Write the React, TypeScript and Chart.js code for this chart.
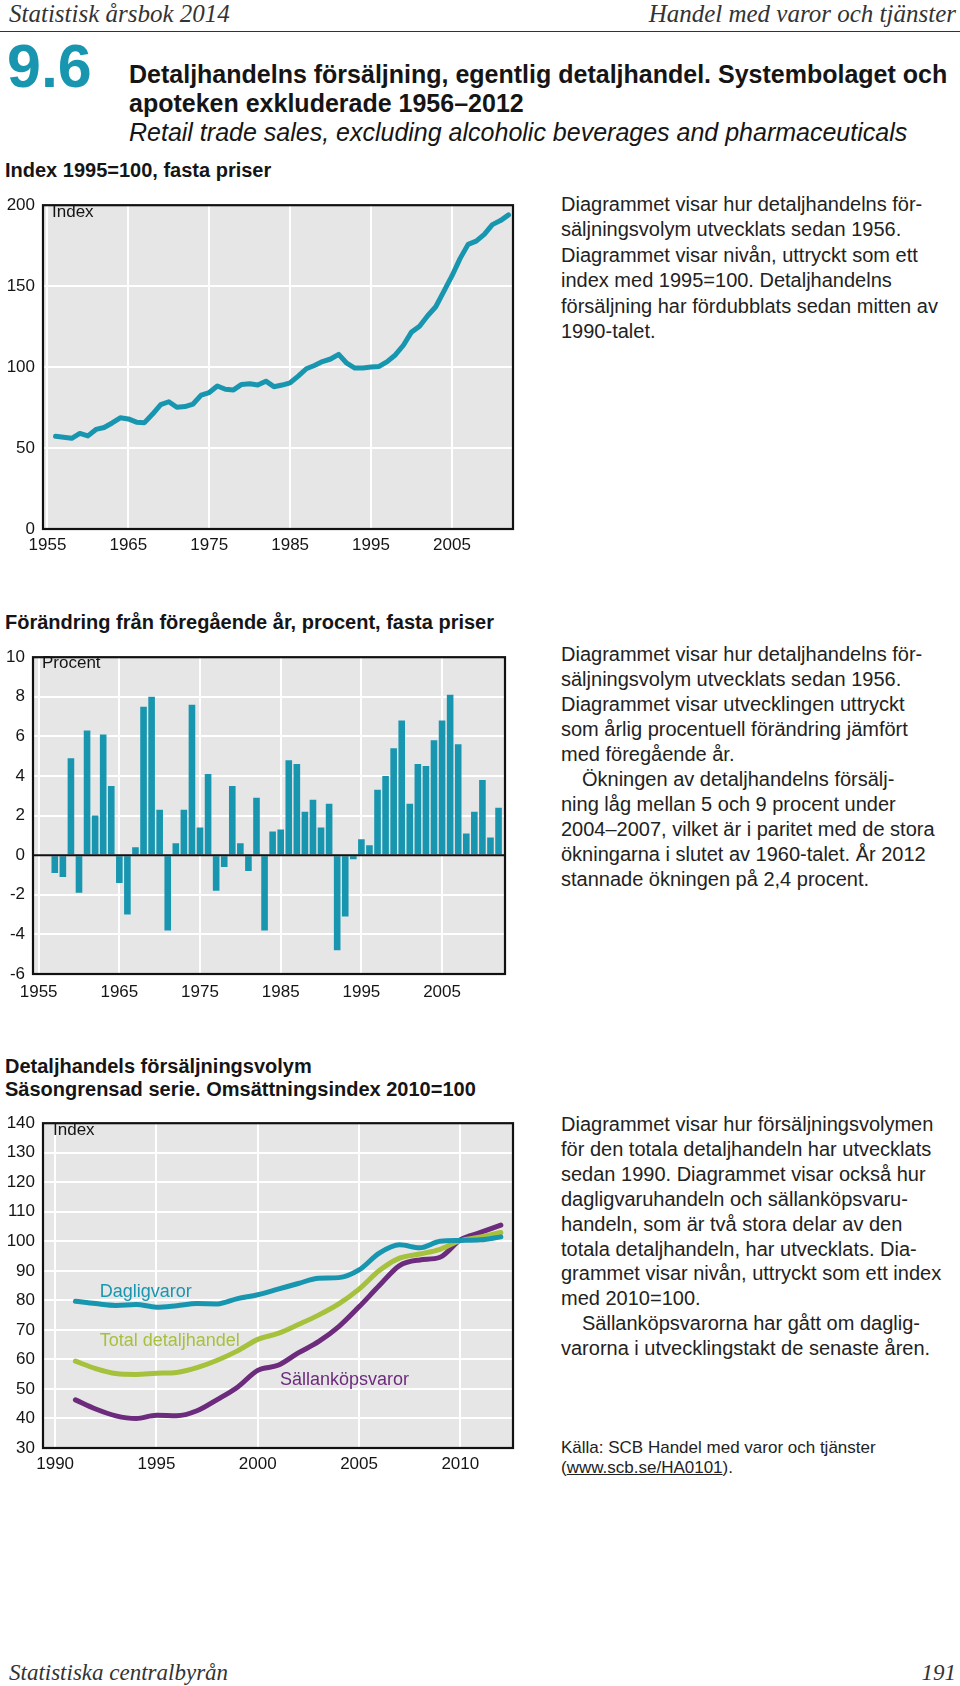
import React, { useEffect, useRef } from 'react';
import { Chart, registerables } from 'chart.js';

Chart.register(...registerables);

const TEAL = '#1896b0';
const GREEN = '#a6c13c';
const PURPLE = '#6c2b7c';
const PLOT_BG = '#e6e6e6';
const INK = '#151515';
const FONT = "'Liberation Sans', Arial, Helvetica, sans-serif";
const SERIF = "'Liberation Serif', 'Times New Roman', serif";

// ---------- Chart 1: Index 1995=100 ----------
const indexYears = [
  1956, 1957, 1958, 1959, 1960, 1961, 1962, 1963, 1964, 1965,
  1966, 1967, 1968, 1969, 1970, 1971, 1972, 1973, 1974, 1975,
  1976, 1977, 1978, 1979, 1980, 1981, 1982, 1983, 1984, 1985,
  1986, 1987, 1988, 1989, 1990, 1991, 1992, 1993, 1994, 1995,
  1996, 1997, 1998, 1999, 2000, 2001, 2002, 2003, 2004, 2005,
  2006, 2007, 2008, 2009, 2010, 2011, 2012,
];
const indexValues = [
  57.3, 56.7, 56.0, 59.0, 57.5, 61.5, 62.7, 65.5, 68.7, 68.0,
  66.0, 65.7, 71.0, 76.8, 78.6, 75.2, 75.6, 77.2, 82.7, 84.3,
  88.3, 86.3, 85.9, 89.3, 89.7, 89.0, 91.3, 87.9, 88.9, 90.3,
  94.4, 99.0, 101.0, 103.4, 105.0, 107.9, 102.4, 99.4, 99.4, 100.0,
  100.4, 103.4, 107.5, 113.5, 121.6, 125.2, 131.7, 137.3, 146.8, 156.3,
  167.0, 175.8, 177.8, 182.0, 188.0, 190.5, 194.0,
];
const indexXTicks = [1955, 1965, 1975, 1985, 1995, 2005];

// ---------- Chart 2: change from previous year, percent ----------
const growthYears = [
  1957, 1958, 1959, 1960, 1961, 1962, 1963, 1964, 1965, 1966,
  1967, 1968, 1969, 1970, 1971, 1972, 1973, 1974, 1975, 1976,
  1977, 1978, 1979, 1980, 1981, 1982, 1983, 1984, 1985, 1986,
  1987, 1988, 1989, 1990, 1991, 1992, 1993, 1994, 1995, 1996,
  1997, 1998, 1999, 2000, 2001, 2002, 2003, 2004, 2005, 2006,
  2007, 2008, 2009, 2010, 2011, 2012,
];
const growthValues = [
  -0.9, -1.1, 4.9, -1.9, 6.3, 2.0, 6.1, 3.5, -1.4, -3.0,
  0.4, 7.5, 8.0, 2.3, -3.8, 0.6, 2.3, 7.6, 1.4, 4.1,
  -1.8, -0.6, 3.5, 0.6, -0.8, 2.9, -3.8, 1.2, 1.3, 4.8,
  4.6, 2.2, 2.8, 1.4, 2.6, -4.8, -3.1, -0.2, 0.8, 0.5,
  3.3, 4.0, 5.4, 6.8, 2.6, 4.6, 4.5, 5.8, 6.8, 8.1,
  5.6, 1.1, 2.2, 3.8, 0.9, 2.4,
];
const growthXTicks = [1955, 1965, 1975, 1985, 1995, 2005];

// ---------- Chart 3: sales volume, index 2010=100 ----------
const volumeYears = [
  1991, 1992, 1993, 1994, 1995, 1996, 1997, 1998, 1999, 2000, 2001,
  2002, 2003, 2004, 2005, 2006, 2007, 2008, 2009, 2010, 2011, 2012,
];
const dagligvaror = [
  79.7, 78.9, 78.3, 78.6, 77.7, 78.2, 78.9, 78.8, 80.6, 81.9, 83.8,
  85.7, 87.5, 87.7, 90.3, 96.0, 98.8, 97.8, 100.0, 100.3, 100.5, 101.5,
];
const totalDetaljhandel = [
  59.4, 56.9, 55.2, 54.9, 55.3, 55.6, 57.2, 59.7, 62.9, 66.8, 68.8,
  71.8, 75.0, 78.8, 83.8, 90.1, 94.3, 95.7, 97.3, 100.2, 101.5, 103.0,
];
const sallankopsvaror = [
  46.3, 43.2, 40.9, 40.0, 41.1, 40.9, 42.6, 46.4, 50.6, 56.3, 58.0,
  62.2, 66.0, 71.1, 77.8, 85.0, 91.8, 93.7, 94.6, 100.5, 103.0, 105.5,
];
const volumeXTicks = [1990, 1995, 2000, 2005, 2010];
const seriesLabels = [
  { text: 'Dagligvaror', x: 1992.2, y: 82.8, color: TEAL },
  { text: 'Total detaljhandel', x: 1992.2, y: 66.3, color: GREEN },
  { text: 'Sällanköpsvaror', x: 2001.1, y: 53.1, color: PURPLE },
];

// ---------- helpers ----------
const framePlugin = {
  id: 'plotFrame',
  beforeDraw(chart: any) {
    const { ctx, chartArea: a } = chart;
    ctx.save();
    ctx.fillStyle = PLOT_BG;
    ctx.fillRect(a.left, a.top, a.right - a.left, a.bottom - a.top);
    ctx.restore();
  },
  afterDraw(chart: any) {
    const { ctx, chartArea: a } = chart;
    ctx.save();
    ctx.strokeStyle = '#111';
    ctx.lineWidth = 2.2;
    ctx.strokeRect(a.left, a.top, a.right - a.left, a.bottom - a.top);
    ctx.restore();
  },
};

const zeroLinePlugin = {
  id: 'zeroLine',
  afterDatasetsDraw(chart: any) {
    const { ctx, chartArea: a, scales } = chart;
    const y = scales.y.getPixelForValue(0);
    ctx.save();
    ctx.strokeStyle = '#111';
    ctx.lineWidth = 2;
    ctx.beginPath();
    ctx.moveTo(a.left, y);
    ctx.lineTo(a.right, y);
    ctx.stroke();
    ctx.restore();
  },
};

const seriesLabelPlugin = {
  id: 'seriesLabels',
  afterDatasetsDraw(chart: any) {
    const { ctx, scales } = chart;
    ctx.save();
    ctx.font = `18px ${FONT}`;
    ctx.textAlign = 'left';
    ctx.textBaseline = 'middle';
    seriesLabels.forEach((l) => {
      ctx.fillStyle = l.color;
      ctx.fillText(l.text, scales.x.getPixelForValue(l.x), scales.y.getPixelForValue(l.y));
    });
    ctx.restore();
  },
};

const tickFont = { family: FONT, size: 17 };

function xScale(min: number, max: number, ticks: number[], height: number, pad: number) {
  return {
    type: 'linear',
    min,
    max,
    offset: false,
    afterBuildTicks: (s: any) => {
      s.ticks = ticks.map((v) => ({ value: v }));
    },
    afterFit: (s: any) => {
      s.height = height;
    },
    grid: { color: '#ffffff', lineWidth: 2, drawTicks: false, offset: false },
    border: { display: false },
    ticks: {
      padding: pad,
      color: INK,
      font: tickFont,
      maxRotation: 0,
      autoSkip: false,
      callback: (v: any) => String(v),
    },
  };
}

function yScale(min: number, max: number, step: number, width: number, gridColor?: any) {
  return {
    type: 'linear',
    min,
    max,
    afterFit: (s: any) => {
      s.width = width;
    },
    grid: { color: gridColor || '#ffffff', lineWidth: 2, drawTicks: false },
    border: { display: false },
    ticks: {
      stepSize: step,
      padding: 8,
      color: INK,
      font: tickFont,
      callback: (v: any) => String(v),
    },
  };
}

const baseOptions = (rightPad: number) => ({
  animation: false,
  responsive: false,
  maintainAspectRatio: false,
  events: [],
  layout: { padding: { top: 10, right: rightPad, left: 0, bottom: 0 } },
  plugins: { legend: { display: false }, tooltip: { enabled: false } },
});

function ChartCanvas({ make, left, top, width, height }: any) {
  const ref = useRef<HTMLCanvasElement>(null);
  useEffect(() => {
    const chart = new Chart(ref.current as HTMLCanvasElement, make());
    return () => chart.destroy();
  }, []);
  return (
    <canvas
      ref={ref}
      width={width}
      height={height}
      style={{ position: 'absolute', left, top, width, height }}
    />
  );
}

const makeIndexChart = () => ({
  type: 'line',
  data: {
    datasets: [
      {
        data: indexYears.map((yr, i) => ({ x: yr, y: indexValues[i] })),
        borderColor: TEAL,
        borderWidth: 5,
        pointRadius: 0,
        tension: 0,
        borderJoinStyle: 'round',
        borderCapStyle: 'round',
      },
    ],
  },
  options: {
    ...baseOptions(27),
    scales: {
      x: xScale(1954.45, 2012.55, indexXTicks, 38, 6),
      y: yScale(0, 200, 50, 43),
    },
  },
  plugins: [framePlugin],
});

const makeGrowthChart = () => ({
  type: 'bar',
  data: {
    datasets: [
      {
        data: growthYears.map((yr, i) => ({ x: yr, y: growthValues[i] })),
        backgroundColor: TEAL,
        borderWidth: 0,
        barPercentage: 0.82,
        categoryPercentage: 1,
      },
    ],
  },
  options: {
    ...baseOptions(35),
    scales: {
      x: xScale(1954.3, 2012.8, growthXTicks, 45, 8),
      y: yScale(-6, 10, 2, 33, (c: any) => (c.tick && c.tick.value === 0 ? 'rgba(0,0,0,0)' : '#ffffff')),
    },
  },
  plugins: [framePlugin, zeroLinePlugin],
});

const lineDs = (values: number[], color: string) => ({
  data: volumeYears.map((yr, i) => ({ x: yr, y: values[i] })),
  borderColor: color,
  borderWidth: 5,
  pointRadius: 0,
  cubicInterpolationMode: 'monotone',
  borderJoinStyle: 'round',
  borderCapStyle: 'round',
});

const makeVolumeChart = () => ({
  type: 'line',
  data: {
    datasets: [
      lineDs(dagligvaror, TEAL),
      lineDs(totalDetaljhandel, GREEN),
      lineDs(sallankopsvaror, PURPLE),
    ],
  },
  options: {
    ...baseOptions(27),
    scales: {
      x: xScale(1989.4, 2012.6, volumeXTicks, 37, 6),
      y: yScale(30, 140, 10, 43),
    },
  },
  plugins: [framePlugin, seriesLabelPlugin],
});

// ---------- text ----------
const text1 = [
  'Diagrammet visar hur detaljhandelns för-',
  'säljningsvolym utvecklats sedan 1956.',
  'Diagrammet visar nivån, uttryckt som ett',
  'index med 1995=100. Detaljhandelns',
  'försäljning har fördubblats sedan mitten av',
  '1990-talet.',
];
const text2 = [
  'Diagrammet visar hur detaljhandelns för-',
  'säljningsvolym utvecklats sedan 1956.',
  'Diagrammet visar utvecklingen uttryckt',
  'som årlig procentuell förändring jämfört',
  'med föregående år.',
  '\tÖkningen av detaljhandelns försälj-',
  'ning låg mellan 5 och 9 procent under',
  '2004–2007, vilket är i paritet med de stora',
  'ökningarna i slutet av 1960-talet. År 2012',
  'stannade ökningen på 2,4 procent.',
];
const text3 = [
  'Diagrammet visar hur försäljningsvolymen',
  'för den totala detaljhandeln har utvecklats',
  'sedan 1990. Diagrammet visar också hur',
  'dagligvaruhandeln och sällanköpsvaru-',
  'handeln, som är två stora delar av den',
  'totala detaljhandeln, har utvecklats. Dia-',
  'grammet visar nivån, uttryckt som ett index',
  'med 2010=100.',
  '\tSällanköpsvarorna har gått om daglig-',
  'varorna i utvecklingstakt de senaste åren.',
];

function TextBlock({ lines, left, top, lineHeight }: any) {
  return (
    <div
      style={{
        position: 'absolute',
        left,
        top,
        fontFamily: FONT,
        fontSize: 20,
        lineHeight: `${lineHeight}px`,
        color: '#222',
        whiteSpace: 'nowrap',
      }}
    >
      {lines.map((l: string, i: number) =>
        l.startsWith('\t') ? (
          <div key={i} style={{ paddingLeft: 21 }}>{l.slice(1)}</div>
        ) : (
          <div key={i}>{l}</div>
        )
      )}
    </div>
  );
}

const abs = (left: number, top: number, extra: any = {}) => ({
  position: 'absolute' as const,
  left,
  top,
  whiteSpace: 'nowrap' as const,
  ...extra,
});

export default function App() {
  return (
    <div
      style={{
        position: 'absolute',
        left: 0,
        top: 0,
        width: 960,
        height: 1686,
        background: '#fff',
        fontFamily: FONT,
        color: INK,
        overflow: 'hidden',
      }}
    >
      {/* running header */}
      <div style={abs(9, 0, { fontFamily: SERIF, fontStyle: 'italic', fontSize: 25, lineHeight: '28px', color: '#333' })}>
        Statistisk årsbok 2014
      </div>
      <div style={{ position: 'absolute', right: 4, top: 0, fontFamily: SERIF, fontStyle: 'italic', fontSize: 25, lineHeight: '28px', color: '#333', whiteSpace: 'nowrap' }}>
        Handel med varor och tjänster
      </div>
      <div style={{ position: 'absolute', left: 0, top: 31, width: 960, borderTop: '1.5px solid #333' }} />

      {/* table number and title */}
      <div style={abs(7, 36, { fontSize: 61, lineHeight: '60px', fontWeight: 'bold', color: TEAL })}>9.6</div>
      <div style={abs(129, 60, { fontSize: 25, lineHeight: '29px', fontWeight: 'bold' })}>
        <div>Detaljhandelns försäljning, egentlig detaljhandel. Systembolaget och</div>
        <div>apoteken exkluderade 1956–2012</div>
        <div style={{ fontWeight: 'normal', fontStyle: 'italic' }}>
          Retail trade sales, excluding alcoholic beverages and pharmaceuticals
        </div>
      </div>

      {/* chart 1 */}
      <div style={abs(5, 158, { fontSize: 20, lineHeight: '24px', fontWeight: 'bold' })}>
        Index 1995=100, fasta priser
      </div>
      <ChartCanvas make={makeIndexChart} left={0} top={187} width={540} height={380} />
      <div style={abs(52, 202, { fontSize: 17, lineHeight: '20px' })}>Index</div>
      <TextBlock lines={text1} left={561} top={192} lineHeight={25.4} />

      {/* chart 2 */}
      <div style={abs(5, 610, { fontSize: 20, lineHeight: '24px', fontWeight: 'bold' })}>
        Förändring från föregående år, procent, fasta priser
      </div>
      <ChartCanvas make={makeGrowthChart} left={0} top={639} width={540} height={380} />
      <div style={abs(42, 653, { fontSize: 17, lineHeight: '20px' })}>Procent</div>
      <TextBlock lines={text2} left={561} top={642} lineHeight={25} />

      {/* chart 3 */}
      <div style={abs(5, 1055, { fontSize: 20, lineHeight: '23px', fontWeight: 'bold' })}>
        <div>Detaljhandels försäljningsvolym</div>
        <div>Säsongrensad serie. Omsättningsindex 2010=100</div>
      </div>
      <ChartCanvas make={makeVolumeChart} left={0} top={1105} width={540} height={380} />
      <div style={abs(53, 1120, { fontSize: 17, lineHeight: '20px' })}>Index</div>
      <TextBlock lines={text3} left={561} top={1112} lineHeight={24.9} />

      {/* source */}
      <div style={abs(561, 1438, { fontSize: 17, lineHeight: '19.5px', color: '#222' })}>
        <div>Källa: SCB Handel med varor och tjänster</div>
        <div>
          (<span style={{ textDecoration: 'underline' }}>www.scb.se/HA0101</span>).
        </div>
      </div>

      {/* footer */}
      <div style={abs(9, 1659, { fontFamily: SERIF, fontStyle: 'italic', fontSize: 23, lineHeight: '28px', color: '#333' })}>
        Statistiska centralbyrån
      </div>
      <div style={{ position: 'absolute', right: 4, top: 1659, fontFamily: SERIF, fontStyle: 'italic', fontSize: 23, lineHeight: '28px', color: '#333' }}>
        191
      </div>
    </div>
  );
}
